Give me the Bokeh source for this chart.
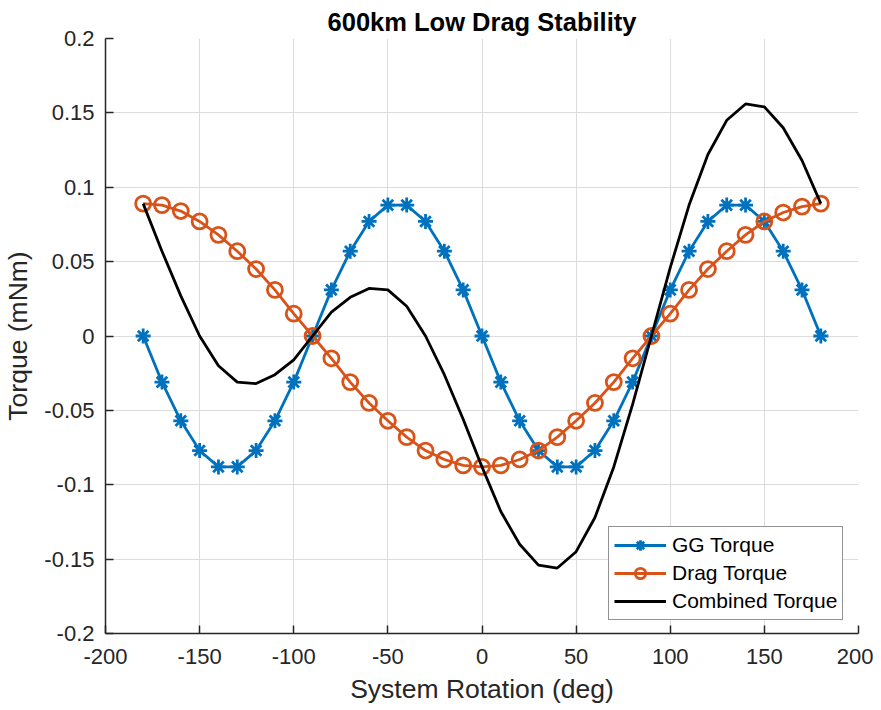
from bokeh.plotting import figure
from bokeh.models import (ColumnDataSource, Legend, LegendItem, FixedTicker,
                          CustomJSTickFormatter, Range1d)
from bokeh.embed import file_html
from bokeh.resources import INLINE

rotation = [-180, -170, -160, -150, -140, -130, -120, -110, -100, -90,
            -80, -70, -60, -50, -40, -30, -20, -10, 0,
            10, 20, 30, 40, 50, 60, 70, 80, 90,
            100, 110, 120, 130, 140, 150, 160, 170, 180]
gg_torque = [0.0, -0.031, -0.057, -0.077, -0.088, -0.088, -0.077, -0.057, -0.031, 0.0,
             0.031, 0.057, 0.077, 0.088, 0.088, 0.077, 0.057, 0.031, 0.0,
             -0.031, -0.057, -0.077, -0.088, -0.088, -0.077, -0.057, -0.031, 0.0,
             0.031, 0.057, 0.077, 0.088, 0.088, 0.077, 0.057, 0.031, 0.0]
drag_torque = [0.089, 0.088, 0.084, 0.077, 0.068, 0.057, 0.045, 0.031, 0.015, 0.0,
               -0.015, -0.031, -0.045, -0.057, -0.068, -0.077, -0.083, -0.087, -0.088,
               -0.087, -0.083, -0.077, -0.068, -0.057, -0.045, -0.031, -0.015, 0.0,
               0.015, 0.031, 0.045, 0.057, 0.068, 0.077, 0.083, 0.087, 0.089]
combined_torque = [0.089, 0.057, 0.027, 0.000, -0.020, -0.031, -0.032, -0.026, -0.016, 0.0,
                   0.016, 0.026, 0.032, 0.031, 0.020, 0.000, -0.026, -0.056, -0.088,
                   -0.118, -0.140, -0.154, -0.156, -0.145, -0.122, -0.088, -0.046, 0.0,
                   0.046, 0.088, 0.122, 0.145, 0.156, 0.154, 0.140, 0.118, 0.089]
x_ticks = [-200, -150, -100, -50, 0, 50, 100, 150, 200]
y_ticks = [-0.2, -0.15, -0.1, -0.05, 0, 0.05, 0.1, 0.15, 0.2]

BLUE = "#0072BD"
ORANGE = "#D95319"
FONT = "Liberation Sans"
AXC = "#262626"

src = ColumnDataSource(dict(x=rotation, gg=gg_torque, drag=drag_torque, comb=combined_torque))

p = figure(width=873, height=708, output_backend="svg", toolbar_location=None,
           x_range=Range1d(-200, 200), y_range=Range1d(-0.2, 0.2),
           min_border_left=104, min_border_right=15, min_border_top=38, min_border_bottom=75)
p.outline_line_color = None
p.background_fill_color = "white"
p.border_fill_color = "white"

p.title.text = "600km Low Drag Stability"
p.title.align = "center"
p.title.text_font = FONT
p.title.text_font_size = "25.5px"
p.title.text_font_style = "bold"
p.title.text_color = "black"
p.title.standoff = 6

for ax in (p.xaxis[0], p.yaxis[0]):
    ax.axis_line_color = AXC
    ax.axis_line_width = 1.5
    ax.major_tick_line_color = AXC
    ax.major_tick_line_width = 1.5
    ax.major_tick_in = 8
    ax.major_tick_out = 0
    ax.minor_tick_line_color = None
    ax.major_label_text_font = FONT
    ax.major_label_text_font_size = "22px"
    ax.major_label_text_color = AXC
    ax.axis_label_text_font = FONT
    ax.axis_label_text_font_size = "26.5px"
    ax.axis_label_text_font_style = "normal"
    ax.axis_label_text_color = AXC

p.xaxis.ticker = FixedTicker(ticks=x_ticks)
p.yaxis.ticker = FixedTicker(ticks=y_ticks)
p.xaxis.formatter = CustomJSTickFormatter(code="return String(tick);")
p.yaxis.formatter = CustomJSTickFormatter(code="""
    let s = tick.toFixed(2);
    s = s.replace(/0+$/, '').replace(/\\.$/, '');
    if (s === '-0') s = '0';
    return s;
""")
p.xaxis.axis_label = "System Rotation (deg)"
p.yaxis.axis_label = "Torque (mNm)"
p.xaxis.major_label_standoff = 15
p.yaxis.major_label_standoff = 11
p.xaxis.axis_label_standoff = 7
p.yaxis.axis_label_standoff = 8

p.xgrid.ticker = FixedTicker(ticks=x_ticks)
p.ygrid.ticker = FixedTicker(ticks=y_ticks)
for g in (p.xgrid[0], p.ygrid[0]):
    g.grid_line_color = "#dcdcdc"
    g.grid_line_width = 1

gl = p.line("x", "gg", source=src, line_color=BLUE, line_width=2.8)
gm = p.scatter("x", "gg", source=src, marker="asterisk", size=15,
               line_color=BLUE, line_width=2.8)
dl = p.line("x", "drag", source=src, line_color=ORANGE, line_width=2.8)
dm = p.scatter("x", "drag", source=src, marker="circle", size=15,
               line_color=ORANGE, fill_color=None, line_width=2.8)
cl = p.line("x", "comb", source=src, line_color="black", line_width=2.8)

legend = Legend(items=[
    LegendItem(label="GG Torque", renderers=[gl, gm]),
    LegendItem(label="Drag Torque", renderers=[dl, dm]),
    LegendItem(label="Combined Torque", renderers=[cl]),
], location=(503, 13))
legend.label_text_font = FONT
legend.label_text_font_size = "21px"
legend.label_text_color = "black"
legend.glyph_width = 52
legend.glyph_height = 26
legend.label_height = 26
legend.label_standoff = 6
legend.spacing = 2
legend.padding = 5
legend.margin = 0
legend.border_line_color = AXC
legend.border_line_width = 1
legend.background_fill_color = "white"
legend.background_fill_alpha = 1
p.add_layout(legend, "center")

open("out.html", "w").write(file_html(p, INLINE))
